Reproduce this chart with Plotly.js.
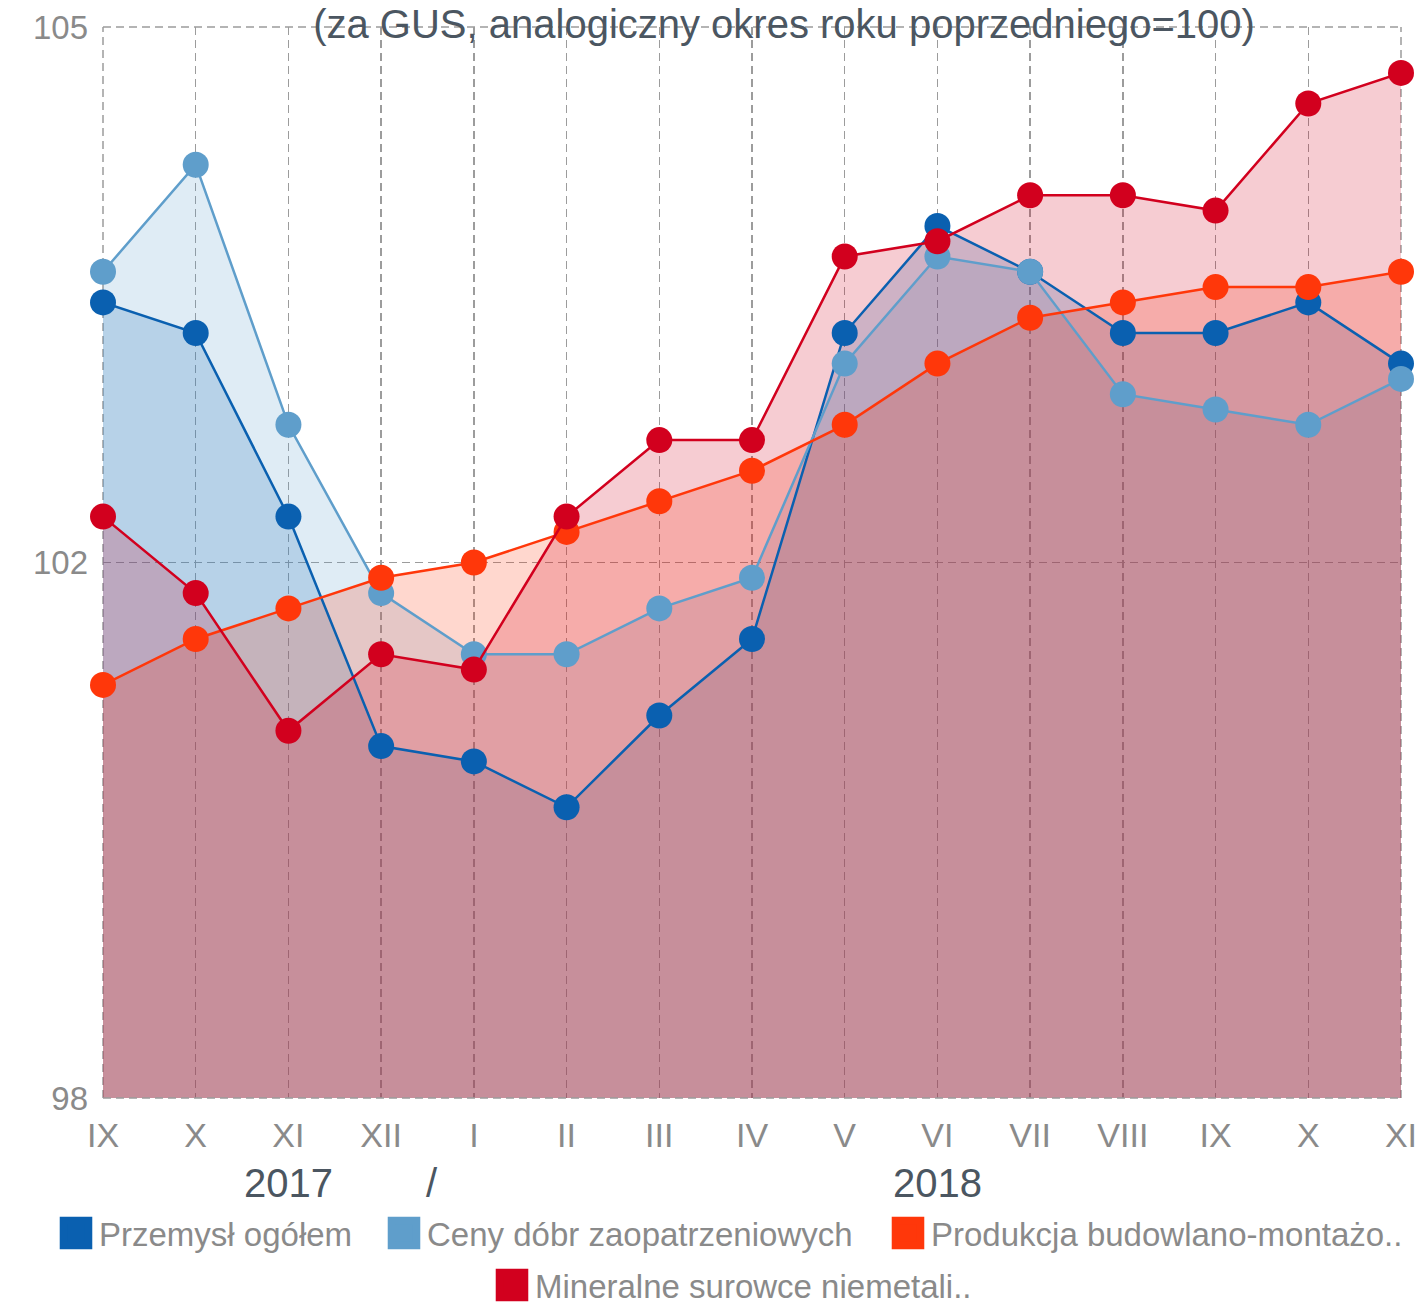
<!DOCTYPE html>
<html>
<head>
<meta charset="utf-8">
<script src="https://cdn.plot.ly/plotly-3.0.1.min.js"></script>
<style>html,body{margin:0;padding:0;background:#fff;}#chart{width:1423px;height:1311px;}</style>
</head>
<body>
<div id="chart"></div>
<script>
// ---- data ----
const months = ["IX","X","XI","XII","I","II","III","IV","V","VI","VII","VIII","IX","X","XI"];
const seriesNames = ["Przemysł ogółem","Ceny dóbr zaopatrzeniowych","Produkcja budowlano-montażo..","Mineralne surowce niemetali.."];
const przemysl   = [103.2,103.0,101.8,100.3,100.2,99.9,100.5,101.0,103.0,103.7,103.4,103.0,103.0,103.2,102.8];
const ceny       = [103.4,104.1,102.4,101.3,100.9,100.9,101.2,101.4,102.8,103.5,103.4,102.6,102.5,102.4,102.7];
const produkcja  = [100.7,101.0,101.2,101.4,101.5,101.7,101.9,102.1,102.4,102.8,103.1,103.2,103.3,103.3,103.4];
const mineralne  = [101.8,101.3,100.4,100.9,100.8,101.8,102.3,102.3,103.5,103.6,103.9,103.9,103.8,104.5,104.7];
const yTickVals  = [98, 101.5, 105];
const yTickText  = ["98","102","105"];
const yearLabels = ["2017", "/", "2018"];
const yearPos    = [2, 3.55, 9];
const titleText  = "(za GUS, analogiczny okres roku poprzedniego=100)";

// ---- styles ----
const lineColors = ["rgb(10,96,176)","rgb(95,158,203)","rgb(255,55,10)","rgb(210,0,30)"];
const fillColors = ["rgba(10,96,176,0.2)","rgba(95,158,203,0.2)","rgba(255,55,10,0.2)","rgba(210,0,30,0.2)"];
const FONT = "'Liberation Sans', Arial, Helvetica, sans-serif";
const GRID = "#9c9c9c";
const legendX = [53, 381, 885, 489];     // px, left of each legend box
const legendY = [1233, 1233, 1233, 1285]; // px, centre of each legend row
const legendIds = ["legend","legend2","legend3","legend4"];

const xIdx = months.map((_, i) => i);
const allSeries = [przemysl, ceny, produkcja, mineralne];

const traces = [];
// fills first (so every line and marker sits above all fills)
allSeries.forEach((ys, k) => {
  traces.push({
    type: "scatter", mode: "none", x: xIdx, y: ys, name: seriesNames[k],
    fill: "tozeroy", fillcolor: fillColors[k], showlegend: false, hoverinfo: "skip"
  });
});
// lines + markers
allSeries.forEach((ys, k) => {
  traces.push({
    type: "scatter", mode: "lines+markers",
    x: xIdx, y: ys, name: seriesNames[k],
    line: {color: lineColors[k], width: 2.5},
    marker: {color: lineColors[k], size: 26},
    cliponaxis: false, showlegend: false, hoverinfo: "y"
  });
});
// legend entries (square swatches), one legend per entry to mimic the layout
allSeries.forEach((ys, k) => {
  traces.push({
    type: "scatter", mode: "markers", x: [null], y: [null], name: seriesNames[k],
    legend: legendIds[k],
    marker: {color: lineColors[k], symbol: "square", size: 16, line: {color: lineColors[k], width: 5}},
    showlegend: true, hoverinfo: "skip"
  });
});

const annotations = yearLabels.map((t, i) => ({
  xref: "x", yref: "paper", x: yearPos[i], y: 0, yshift: -85, yanchor: "middle", xanchor: "center",
  text: t, showarrow: false, font: {family: FONT, size: 40, color: "#4b5661"}
}));

const edge = (x0, y0, x1, y1, layer) => ({
  type: "line", xref: "paper", yref: "paper", x0, y0, x1, y1, layer,
  line: {color: GRID, width: 1.5, dash: "8px,5px"}
});
const shapes = [edge(0,0,0,1,"below"), edge(1,0,1,1,"below"), edge(0,1,1,1,"below"), edge(0,0,1,0,"above")];

const layout = {
  width: 1423, height: 1311,
  margin: {l: 103, r: 22, t: 27, b: 213},
  paper_bgcolor: "#fff", plot_bgcolor: "#fff",
  title: {text: titleText, font: {family: FONT, size: 40, color: "#4b5661"},
          xref: "container", x: 784/1423, xanchor: "center", yref: "container", y: 1 - 24/1311, yanchor: "middle"},
  xaxis: {
    range: [0, months.length - 1], tickmode: "array", tickvals: xIdx, ticktext: months,
    showgrid: true, gridcolor: GRID, griddash: "8px,5px", gridwidth: 1.5,
    zeroline: false, showline: false, ticks: "", ticklabelstandoff: 14,
    tickfont: {family: FONT, size: 34, color: "#8a8a8a"}, fixedrange: true
  },
  yaxis: {
    range: [98, 105], tickmode: "array", tickvals: yTickVals, ticktext: yTickText,
    showgrid: true, gridcolor: GRID, griddash: "8px,5px", gridwidth: 1.5,
    zeroline: false, showline: false, ticks: "", ticklabelstandoff: 14,
    tickfont: {family: FONT, size: 33, color: "#8a8a8a"}, fixedrange: true
  },
  annotations: annotations,
  shapes: shapes,
  showlegend: true
};
legendIds.forEach((id, k) => {
  layout[id] = {
    orientation: "h", xref: "container", yref: "container",
    x: legendX[k] / 1423, xanchor: "left", y: 1 - legendY[k] / 1311, yanchor: "middle",
    font: {family: FONT, size: 33, color: "#8a8a8a"}, itemwidth: 36, bgcolor: "rgba(0,0,0,0)"
  };
});

Plotly.newPlot("chart", traces, layout, {displayModeBar: false, staticPlot: true}).then(gd => {
  // enlarge legend swatches to match the reference's big squares
  gd.querySelectorAll(".legendpoints path").forEach(p => {
    const t = p.getAttribute("transform") || "";
    p.setAttribute("transform", t + " scale(1.55)");
  });
});
</script>
</body>
</html>
